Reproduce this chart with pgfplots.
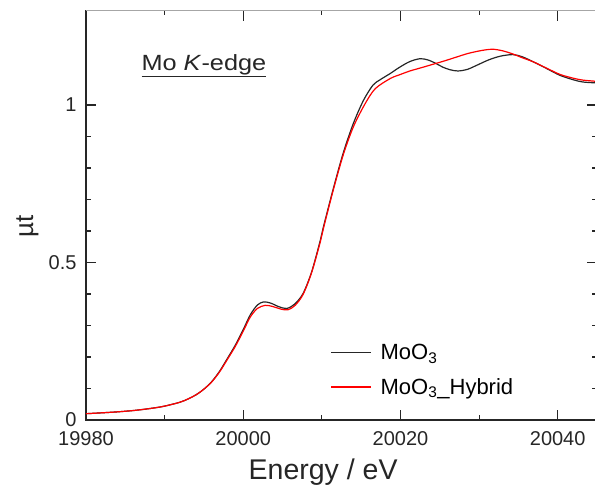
\documentclass[border=0pt]{standalone}
\usepackage{fontspec}
\setmainfont{Liberation Sans}
\usepackage{pgfplots}
\pgfplotsset{compat=1.18}

\begin{document}
\begin{tikzpicture}
\useasboundingbox (-86pt,-68pt) rectangle (509pt,420pt);
\begin{axis}[
    scale only axis,
    width=511pt, height=409.5pt,
    xmin=19980, xmax=20045,
    ymin=0, ymax=1.3,
    xtick={19980,20000,20020,20040},
    ytick={0,0.5,1},
    scaled ticks=false,
    minor x tick num=1,
    minor y tick num=4,
    tick align=inside,
    major tick length=10pt,
    minor tick length=5pt,
    axis line style={line width=1.1pt, black!85},
    every tick/.style={line width=1.1pt, black!85},
    /pgf/number format/assume math mode=true,
    /pgf/number format/1000 sep={},
    tick label style={font=\fontsize{20}{24}\selectfont, text=black!85},
    xticklabel style={yshift=-8pt},
    yticklabel style={xshift=-6pt},
    xlabel={Energy / eV},
    ylabel={\textmu t},
    xlabel style={at={(axis description cs:0.464,-0.1465)}, anchor=base,
                  font=\fontsize{28.5}{32}\selectfont, text=black!85},
    ylabel style={at={(axis description cs:-0.1037,0.474)}, anchor=base,
                  font=\fontsize{26}{30}\selectfont, text=black!85},
    legend style={draw=none, fill=none, at={(axis description cs:0.478,0.19)},
                  anchor=north west, font=\fontsize{22}{26}\selectfont,
                  row sep=13pt, inner sep=0pt},
    legend cell align=left,
    legend image code/.code={\draw[#1] (0pt,0pt) -- (40pt,0pt); \path (47pt,0pt);},
]
\addplot[black!85, line width=1.2pt, smooth] coordinates {
(19980,0.020) (19983.5,0.025) (19986,0.030) (19988,0.036) (19989.8,0.043)
(19991.9,0.056) (19993,0.067) (19994,0.080) (19995,0.098) (19996,0.122)
(19997,0.155) (19998,0.196) (19999,0.238) (20000,0.287) (20000.9,0.334)
(20001.8,0.365) (20002.6,0.375) (20003.5,0.371) (20004.5,0.360) (20005.5,0.354)
(20006.5,0.367) (20007.6,0.401) (20008.7,0.470) (20009.8,0.570) (20010.2,0.613)
(20011.4,0.729) (20012.7,0.846) (20014.0,0.941) (20015.3,1.015) (20016.5,1.063)
(20017.4,1.080) (20018.7,1.100) (20019.9,1.120) (20021.2,1.138) (20022.5,1.147)
(20023.5,1.143) (20024.5,1.132) (20025.4,1.120) (20026.3,1.112) (20027.3,1.108)
(20028.5,1.113) (20029.7,1.126) (20031.2,1.143) (20032.7,1.155) (20034.3,1.160)
(20035.5,1.153) (20036.9,1.137) (20038.5,1.117) (20040.3,1.094) (20042,1.080)
(20043.2,1.073) (20045,1.070)
};
\addlegendentry{MoO\textsubscript{3}}
\addplot[red, line width=1.2pt, smooth] coordinates {
(19980,0.020) (19983.5,0.025) (19986,0.030) (19988,0.036) (19989.8,0.043)
(19991.9,0.056) (19993,0.067) (19994,0.080) (19995,0.098) (19996,0.121)
(19997,0.153) (19998,0.193) (19999,0.234) (20000,0.282) (20000.9,0.327)
(20001.8,0.354) (20002.8,0.364) (20003.8,0.360) (20004.8,0.352) (20005.7,0.350)
(20006.6,0.364) (20007.6,0.398) (20008.7,0.468) (20009.8,0.565) (20010.2,0.608)
(20011.4,0.725) (20012.7,0.840) (20014.0,0.930) (20015.5,1.004) (20016.8,1.052)
(20018.7,1.084) (20020,1.097) (20021.2,1.108) (20022.6,1.118) (20024.1,1.129)
(20025.6,1.140) (20027.1,1.152) (20028.5,1.163) (20029.7,1.170) (20030.8,1.175)
(20031.8,1.177) (20033.0,1.172) (20034.3,1.162) (20035.5,1.150) (20036.9,1.137)
(20038.5,1.118) (20040.3,1.097) (20042,1.085) (20043.2,1.079) (20045,1.075)
};
\addlegendentry{MoO\textsubscript{3}\_Hybrid}
\draw[black!35, line width=1.1pt] (rel axis cs:0,1) -- (rel axis cs:1,1);
\node[anchor=base west, text=black!85] at (axis description cs:0.1018,0.853)
  {\scalebox{1.15}[1]{\fontsize{22}{26}\selectfont\underline{Mo \textit{K}-edge}}};
\end{axis}
\end{tikzpicture}
\end{document}
